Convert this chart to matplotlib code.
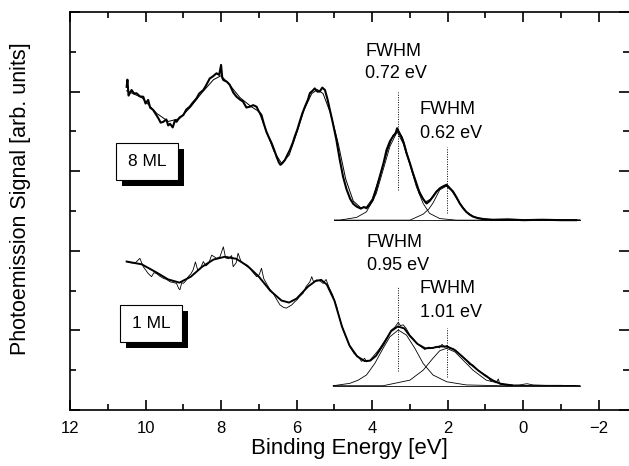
"""Photoemission spectra, 8 ML vs 1 ML, with FWHM fit components."""

import matplotlib
matplotlib.use("Agg")
import matplotlib.pyplot as plt
import matplotlib.patches as mpatches
from matplotlib.ticker import MultipleLocator

plt.rcParams["font.family"] = ["Liberation Sans", "DejaVu Sans"]

# --- 8 ML: raw spectrum (noisy) ---
E8_raw = [10.50, 10.48, 10.45, 10.37, 10.30, 10.24, 10.15, 10.06, 10.00, 9.93,
          9.88, 9.80, 9.72, 9.66, 9.60, 9.53, 9.45, 9.40, 9.35, 9.28,
          9.22, 9.18, 9.10, 9.00, 8.92, 8.83, 8.75, 8.65, 8.58, 8.47,
          8.40, 8.30, 8.22, 8.12, 8.05, 8.00, 7.97, 7.94, 7.85, 7.77,
          7.68, 7.59, 7.50, 7.42, 7.33, 7.24, 7.15, 7.06, 7.00, 6.93,
          6.87, 6.80, 6.72, 6.66, 6.58, 6.53, 6.47, 6.43, 6.38, 6.31,
          6.25, 6.18, 6.10, 6.05, 5.98, 5.92, 5.85, 5.78, 5.70, 5.65,
          5.58, 5.52, 5.45, 5.39, 5.32, 5.25, 5.18, 5.12, 5.05, 4.95,
          4.86, 4.77, 4.68, 4.58, 4.50, 4.41, 4.30, 4.22, 4.15, 4.07,
          3.98, 3.90, 3.80, 3.70, 3.62, 3.53, 3.45, 3.38, 3.34, 3.30,
          3.23, 3.16, 3.09, 3.00, 2.92, 2.83, 2.74, 2.65, 2.56, 2.48,
          2.39, 2.30, 2.21, 2.12, 2.03, 1.95, 1.86, 1.77, 1.68, 1.60,
          1.51, 1.42, 1.33, 1.20, 1.07, 0.80, 0.40, 0.00, -0.50, -1.00,
          -1.40]
I8_raw = [8.12, 8.30, 7.90, 8.04, 7.95, 7.96, 7.88, 7.87, 7.70, 7.79,
          7.60, 7.54, 7.42, 7.33, 7.22, 7.24, 7.30, 7.15, 7.19, 7.10,
          7.28, 7.24, 7.35, 7.41, 7.55, 7.62, 7.72, 7.83, 7.95, 8.04,
          8.15, 8.33, 8.38, 8.46, 8.42, 8.67, 8.35, 8.29, 8.25, 8.17,
          7.98, 7.87, 7.80, 7.75, 7.60, 7.62, 7.66, 7.62, 7.50, 7.41,
          7.20, 6.99, 6.82, 6.70, 6.50, 6.36, 6.22, 6.16, 6.20, 6.28,
          6.40, 6.53, 6.72, 6.87, 7.05, 7.24, 7.45, 7.62, 7.80, 7.96,
          8.02, 8.08, 8.00, 8.00, 8.10, 8.04, 7.80, 7.54, 7.25, 6.80,
          6.30, 5.86, 5.55, 5.30, 5.18, 5.11, 5.06, 5.10, 5.07, 5.15,
          5.28, 5.52, 5.86, 6.20, 6.53, 6.75, 6.87, 6.95, 7.08, 7.00,
          6.87, 6.70, 6.45, 6.20, 5.95, 5.70, 5.44, 5.30, 5.19, 5.25,
          5.36, 5.48, 5.57, 5.62, 5.66, 5.58, 5.49, 5.35, 5.19, 5.08,
          4.98, 4.91, 4.86, 4.82, 4.80, 4.78, 4.79, 4.77, 4.78, 4.77,
          4.77]

# --- 8 ML: smooth curve / fit envelope ---
E8_fit = [10.5, 10.1, 9.7, 9.4, 9.1, 8.8, 8.5, 8.2, 8.0, 7.8,
          7.5, 7.2, 7.0, 6.8, 6.6, 6.4, 6.2, 6.0, 5.8, 5.6,
          5.45, 5.3, 5.1, 4.9, 4.7, 4.5, 4.3, 4.15, 4.0, 3.8,
          3.6, 3.45, 3.33, 3.2, 3.0, 2.8, 2.6, 2.45, 2.3, 2.15,
          2.03, 1.9, 1.7, 1.5, 1.3, 1.0, 0.5, -1.5]
I8_fit = [8.02, 7.85, 7.45, 7.25, 7.32, 7.62, 7.98, 8.30, 8.40, 8.20,
          7.85, 7.62, 7.50, 7.00, 6.50, 6.20, 6.40, 6.95, 7.55, 7.95,
          8.05, 7.95, 7.45, 6.70, 5.80, 5.25, 5.08, 5.10, 5.30, 5.86,
          6.50, 6.90, 7.02, 6.85, 6.20, 5.60, 5.22, 5.30, 5.50, 5.60,
          5.62, 5.52, 5.22, 4.97, 4.85, 4.79, 4.77, 4.77]

# --- 8 ML: fit components and background ---
E8_c1 = [5.0, 4.86, 4.41, 4.15, 3.89, 3.71, 3.53, 3.34, 3.18, 3.0,
         2.83, 2.65, 2.48, 2.21, 1.77, -1.5]
I8_c1 = [4.77, 4.77, 4.84, 4.98, 5.44, 6.03, 6.62, 6.99, 6.70, 6.16,
         5.61, 5.19, 4.94, 4.81, 4.77, 4.77]
E8_c2 = [5.0, 3.0, 2.65, 2.5, 2.39, 2.21, 2.03, 1.86, 1.68, 1.51,
         1.33, 1.07, 0.62, -1.5]
I8_c2 = [4.77, 4.77, 4.92, 5.05, 5.20, 5.53, 5.63, 5.49, 5.19, 4.98,
         4.86, 4.79, 4.77, 4.77]
E8_bg = [5.0, -1.5]
I8_bg = [4.77, 4.77]

# --- 1 ML: raw spectrum (noisy) ---
E1_raw = [10.50, 10.40, 10.28, 10.15, 10.06, 9.93, 9.84, 9.78, 9.71, 9.62,
          9.53, 9.44, 9.35, 9.25, 9.18, 9.12, 9.09, 9.04, 9.00, 8.93,
          8.87, 8.80, 8.74, 8.68, 8.62, 8.55, 8.47, 8.40, 8.33, 8.25,
          8.18, 8.12, 8.03, 7.94, 7.88, 7.80, 7.72, 7.68, 7.60, 7.55,
          7.48, 7.42, 7.33, 7.24, 7.15, 7.06, 6.99, 6.93, 6.87, 6.80,
          6.72, 6.62, 6.53, 6.44, 6.35, 6.27, 6.20, 6.13, 6.05, 6.00,
          5.92, 5.83, 5.75, 5.65, 5.60, 5.55, 5.47, 5.38, 5.30, 5.22,
          5.15, 5.05, 4.94, 4.86, 4.77, 4.68, 4.59, 4.48, 4.37, 4.28,
          4.20, 4.15, 4.06, 3.98, 3.88, 3.80, 3.71, 3.60, 3.49, 3.40,
          3.31, 3.25, 3.18, 3.10, 3.00, 2.92, 2.83, 2.72, 2.61, 2.50,
          2.39, 2.30, 2.22, 2.15, 2.08, 2.03, 1.95, 1.86, 1.75, 1.60,
          1.50, 1.42, 1.33, 1.20, 1.07, 0.95, 0.85, 0.80, 0.72, 0.66,
          0.62, 0.40, 0.10, -0.10, -0.26, -0.60, -1.00, -1.40]
I1_raw = [3.73, 3.70, 3.69, 3.81, 3.60, 3.43, 3.35, 3.45, 3.43, 3.36,
          3.31, 3.28, 3.22, 3.20, 3.18, 3.05, 3.02, 3.20, 3.18, 3.25,
          3.35, 3.42, 3.52, 3.72, 3.52, 3.55, 3.73, 3.62, 3.68, 3.89,
          3.85, 3.81, 3.85, 4.10, 3.82, 3.80, 3.88, 3.60, 3.70, 3.94,
          3.75, 3.69, 3.62, 3.56, 3.45, 3.35, 3.40, 3.56, 3.30, 3.18,
          3.05, 2.93, 2.78, 2.64, 2.58, 2.56, 2.60, 2.64, 2.72, 2.76,
          2.85, 2.93, 3.10, 3.22, 3.35, 3.22, 3.27, 3.24, 3.18, 3.28,
          3.10, 2.90, 2.60, 2.30, 2.01, 1.80, 1.59, 1.42, 1.34, 1.22,
          1.30, 1.21, 1.25, 1.34, 1.45, 1.55, 1.68, 1.84, 2.01, 2.08,
          2.20, 2.12, 2.14, 2.05, 1.88, 1.80, 1.68, 1.60, 1.52, 1.58,
          1.55, 1.60, 1.56, 1.65, 1.58, 1.62, 1.55, 1.55, 1.45, 1.34,
          1.25, 1.14, 1.13, 1.00, 0.92, 0.85, 0.72, 0.75, 0.68, 0.78,
          0.65, 0.62, 0.63, 0.66, 0.63, 0.62, 0.62, 0.61]

# --- 1 ML: smoothed curve / fit envelope ---
E1_fit = [10.5, 10.1, 9.7, 9.4, 9.1, 8.8, 8.5, 8.2, 7.9, 7.6,
          7.3, 7.0, 6.7, 6.4, 6.2, 6.0, 5.7, 5.5, 5.35, 5.2,
          5.0, 4.8, 4.6, 4.4, 4.2, 4.05, 3.9, 3.7, 3.5, 3.32,
          3.15, 3.0, 2.8, 2.6, 2.4, 2.2, 2.0, 1.8, 1.6, 1.4,
          1.2, 1.0, 0.8, 0.6, 0.3]
I1_fit = [3.73, 3.66, 3.45, 3.28, 3.20, 3.35, 3.60, 3.78, 3.85, 3.80,
          3.62, 3.35, 3.00, 2.75, 2.70, 2.80, 3.10, 3.24, 3.27, 3.15,
          2.75, 2.10, 1.62, 1.35, 1.23, 1.24, 1.36, 1.65, 1.98, 2.10,
          2.05, 1.86, 1.66, 1.55, 1.56, 1.60, 1.59, 1.50, 1.33, 1.16,
          1.00, 0.86, 0.74, 0.66, 0.62]

# --- 1 ML: fit components and background ---
E1_c1 = [5.03, 4.59, 4.37, 4.15, 3.93, 3.71, 3.53, 3.31, 3.09, 2.87,
         2.65, 2.39, 2.03, 1.51, 0.62, -1.5]
I1_c1 = [0.61, 0.67, 0.75, 0.88, 1.17, 1.55, 1.84, 2.01, 1.88, 1.55,
         1.17, 0.88, 0.71, 0.63, 0.61, 0.61]
E1_c2 = [5.03, 3.71, 3.0, 2.65, 2.39, 2.21, 2.03, 1.81, 1.60, 1.33,
         0.98, 0.45, -0.26, -1.5]
I1_c2 = [0.61, 0.61, 0.75, 1.00, 1.30, 1.49, 1.55, 1.46, 1.26, 1.00,
         0.75, 0.63, 0.61, 0.61]
E1_bg = [5.03, -1.5]
I1_bg = [0.61, 0.61]

# peak positions (dotted markers) and their vertical extent
PEAK8_E = [3.32, 2.03]
PEAK8_LO = [5.53, 4.94]
PEAK8_HI = [8.00, 6.62]
PEAK1_E = [3.32, 2.03]
PEAK1_LO = [0.98, 0.84]
PEAK1_HI = [3.10, 2.06]

FWHM8 = ["0.72 eV", "0.62 eV"]
FWHM1 = ["0.95 eV", "1.01 eV"]


fig = plt.figure(figsize=(6.29, 4.66), dpi=100)
ax = fig.add_axes([70 / 629, 56 / 466, 559 / 629, 398 / 466])

# 8 ML
ax.plot(E8_raw, I8_raw, color="black", lw=1.5)
ax.plot(E8_fit, I8_fit, color="black", lw=0.7)
ax.plot(E8_c1, I8_c1, color="black", lw=0.6)
ax.plot(E8_c2, I8_c2, color="black", lw=0.6)
ax.plot(E8_bg, I8_bg, color="black", lw=0.6)

# 1 ML
ax.plot(E1_raw, I1_raw, color="black", lw=0.6)
ax.plot(E1_fit, I1_fit, color="black", lw=1.4)
ax.plot(E1_c1, I1_c1, color="black", lw=0.6)
ax.plot(E1_c2, I1_c2, color="black", lw=0.6)
ax.plot(E1_bg, I1_bg, color="black", lw=0.6)

for e, lo, hi in zip(PEAK8_E + PEAK1_E, PEAK8_LO + PEAK1_LO, PEAK8_HI + PEAK1_HI):
    ax.plot([e, e], [lo, hi], color="black", lw=0.7, ls=(0, (1, 1.5)))

# FWHM labels
fs = 13
ax.text(4.18, 9.0, "FWHM", fontsize=fs, va="center", ha="left")
ax.text(4.18, 8.45, FWHM8[0], fontsize=fs, va="center", ha="left")
ax.text(2.74, 7.56, "FWHM", fontsize=fs, va="center", ha="left")
ax.text(2.74, 6.94, FWHM8[1], fontsize=fs, va="center", ha="left")
ax.text(4.14, 4.22, "FWHM", fontsize=fs, va="center", ha="left")
ax.text(4.14, 3.63, FWHM1[0], fontsize=fs, va="center", ha="left")
ax.text(2.74, 3.05, "FWHM", fontsize=fs, va="center", ha="left")
ax.text(2.74, 2.46, FWHM1[1], fontsize=fs, va="center", ha="left")


def shadow_box(x0, y0, x1, y1, label, off=6):
    """Box with drop shadow, given in pixel coords (y from top)."""
    W, H = 629.0, 466.0
    w, h = (x1 - x0) / W, (y1 - y0) / H
    fig.add_artist(mpatches.Rectangle(((x0 + off) / W, 1 - (y1 + off) / H), w, h,
                                      facecolor="black", edgecolor="black",
                                      lw=0, transform=fig.transFigure))
    fig.add_artist(mpatches.Rectangle((x0 / W, 1 - y1 / H), w, h,
                                      facecolor="white", edgecolor="black",
                                      lw=0.8, transform=fig.transFigure))
    fig.text((x0 + x1) / 2 / W, 1 - (y0 + y1) / 2 / H, label,
             ha="center", va="center", fontsize=12.5)


shadow_box(116, 143, 178, 180, "8 ML")
shadow_box(120, 305, 182, 342, "1 ML")

ax.set_xlim(12, -2.8)
ax.set_ylim(0, 10)
ax.xaxis.set_major_locator(MultipleLocator(2))
ax.xaxis.set_minor_locator(MultipleLocator(1))
ax.yaxis.set_major_locator(MultipleLocator(2))
ax.yaxis.set_minor_locator(MultipleLocator(1))
ax.tick_params(which="both", direction="in", top=True, right=True,
               width=1.2, labelsize=12, pad=8)
ax.tick_params(which="major", length=7)
ax.tick_params(which="minor", length=4)
ax.tick_params(axis="y", labelleft=False)
ax.spines["right"].set_visible(False)
for s in ("left", "top", "bottom"):
    ax.spines[s].set_linewidth(1.2)

ax.set_xlabel("Binding Energy [eV]", fontsize=16)
ax.xaxis.set_label_coords(0.5, -0.07)
ax.set_ylabel("Photoemission Signal [arb. units]", fontsize=15.5)
ax.yaxis.set_label_coords(-0.07, 0.53)

fig.savefig("out.png", dpi=100)
